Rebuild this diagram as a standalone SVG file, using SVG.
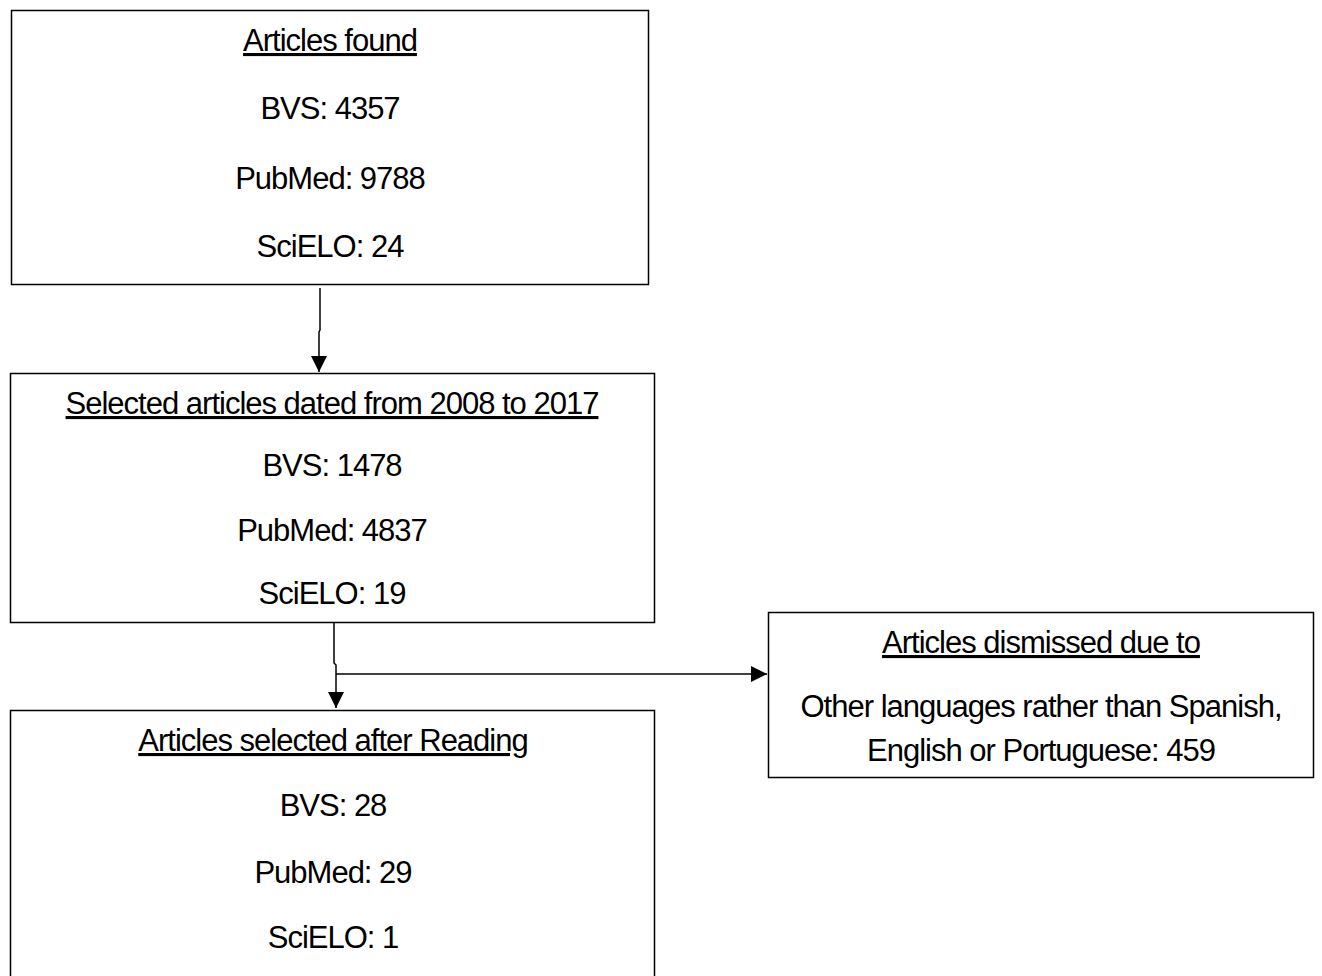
<svg xmlns="http://www.w3.org/2000/svg" width="1322" height="976" viewBox="0 0 1322 976">
<defs>
<style>
.box{fill:#fff;stroke:#000;stroke-width:1.5}
.t{font-family:"Liberation Sans",Arial,sans-serif;font-size:31px;fill:#000;text-anchor:middle;letter-spacing:-1px}
.u{text-decoration:underline}
.c{fill:none;stroke:#000;stroke-width:1.5}
</style>
<marker id="ah" viewBox="0 0 10 10" refX="10" refY="5" markerWidth="16" markerHeight="16" markerUnits="userSpaceOnUse" orient="auto">
<path d="M0,0 L10,5 L0,10 z" fill="#000"/>
</marker>
</defs>
<rect width="1322" height="976" fill="#fff"/>
<g id="n1">
<rect class="box" x="11.5" y="10.5" width="637" height="274" stroke-width="2.5"/>
<text class="t u" x="330" y="51">Articles found</text>
<text class="t" x="330" y="119">BVS: 4357</text>
<text class="t" x="330" y="189">PubMed: 9788</text>
<text class="t" x="330" y="257">SciELO: 24</text>
</g>
<g id="n2">
<rect class="box" x="10.5" y="373.5" width="644" height="249"/>
<text class="t u" x="332" y="414">Selected articles dated from 2008 to 2017</text>
<text class="t" x="332" y="476">BVS: 1478</text>
<text class="t" x="332" y="541">PubMed: 4837</text>
<text class="t" x="332" y="604">SciELO: 19</text>
</g>
<g id="n3">
<rect class="box" x="10.5" y="710.5" width="644" height="280"/>
<text class="t u" x="333" y="751">Articles selected after Reading</text>
<text class="t" x="333" y="816">BVS: 28</text>
<text class="t" x="333" y="883">PubMed: 29</text>
<text class="t" x="333" y="948">SciELO: 1</text>
</g>
<g id="n4">
<rect class="box" x="768.5" y="612.5" width="545" height="165"/>
<text class="t u" x="1041" y="653">Articles dismissed due to</text>
<text class="t" x="1041" y="717">Other languages rather than Spanish,</text>
<text class="t" x="1041" y="761">English or Portuguese: 459</text>
</g>
<g id="connectors">
<path class="c" d="M320,288 V330 L319,332 V372" marker-end="url(#ah)"/>
<path class="c" d="M334,623 V663 L336,665 V708" marker-end="url(#ah)"/>
<path class="c" d="M336,674 H767" marker-end="url(#ah)"/>
</g>
</svg>
